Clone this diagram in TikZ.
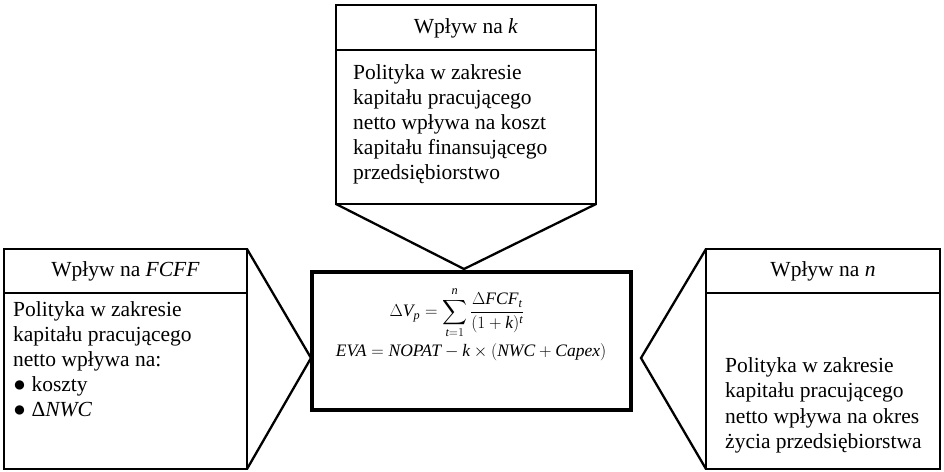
\documentclass[tikz,border=0pt]{standalone}
\usepackage{amsmath}
\usepackage{fontspec}
\setmainfont{Liberation Serif}
\newcommand\ti[1]{\textit{#1}}
\begin{document}
\begin{tikzpicture}[x=1pt,y=-1pt,
  panel/.style={draw, line width=1.3pt, inner sep=0pt, outer sep=0pt, anchor=north west},
  wedge/.style={line width=2.3pt, line join=miter},
  hdr/.style={font=\fontsize{21.5}{24.5}\selectfont, inner sep=0pt},
  body/.style={font=\fontsize{21.5}{25.2}\selectfont, align=left, inner sep=0pt, anchor=north west},
  formula/.style={font=\fontsize{17.5}{20}\selectfont, inner sep=0pt}]
\useasboundingbox (0,0) rectangle (944,471);
% boxes
\node[panel, minimum width=243, minimum height=220] (L) at (4,249) {};
\node[panel, minimum width=234, minimum height=220] (R) at (706,249) {};
\node[panel, minimum width=260, minimum height=199] (T) at (336,5) {};
\node[draw, line width=4pt, minimum width=319, minimum height=138, anchor=north west, inner sep=0pt, outer sep=0pt] (C) at (312,272) {};
% header separators
\draw[line width=1.3pt] ([yshift=-44pt]L.north west) -- ([yshift=-44pt]L.north east);
\draw[line width=1.3pt] ([yshift=-44pt]R.north west) -- ([yshift=-44pt]R.north east);
\draw[line width=1.3pt] ([yshift=-45pt]T.north west) -- ([yshift=-45pt]T.north east);
% wedges
\coordinate (aL) at (311,358);
\coordinate (aR) at (641,358);
\coordinate (aT) at (464,269);
\draw[wedge] (L.north east) -- (aL) -- (L.south east);
\draw[wedge] (R.north west) -- (aR) -- (R.south west);
\draw[wedge] (T.south west) -- (aT) -- (T.south east);
% headers
\node[hdr] (Lh) at (125.5,271) {Wpływ na \textit{FCFF}};
\node[hdr] (Rh) at (823,271) {Wpływ na \textit{n}};
\node[hdr] (Th) at (466,28) {Wpływ na \textit{k}};
% bodies
\node[body] (Tb) at (353,64) {Polityka w zakresie\\kapitału pracującego\\netto wpływa na koszt\\kapitału finansującego\\przedsiębiorstwo};
\node[body] (Lb) at (13,301) {Polityka w zakresie\\kapitału pracującego\\netto wpływa na:\\● koszty\\● Δ\textit{NWC}};
\node[body] (Rb) at (725,357.5) {Polityka w zakresie\\kapitału pracującego\\netto wpływa na okres\\życia przedsiębiorstwa};
% formulas
\node[formula] (F1) at (457,313) {$\displaystyle \Delta\ti{V}_{\ti{p}} = \sum_{\ti{t}=1}^{\ti{n}} \frac{\Delta\ti{FCF}_{\ti{t}}}{(1+\ti{k})^{\ti{t}}}$};
\node[formula] (F2) at (471,352) {$\ti{EVA} = \ti{NOPAT} - \ti{k}\times(\ti{NWC}+\ti{Capex})$};
\end{tikzpicture}
\end{document}
